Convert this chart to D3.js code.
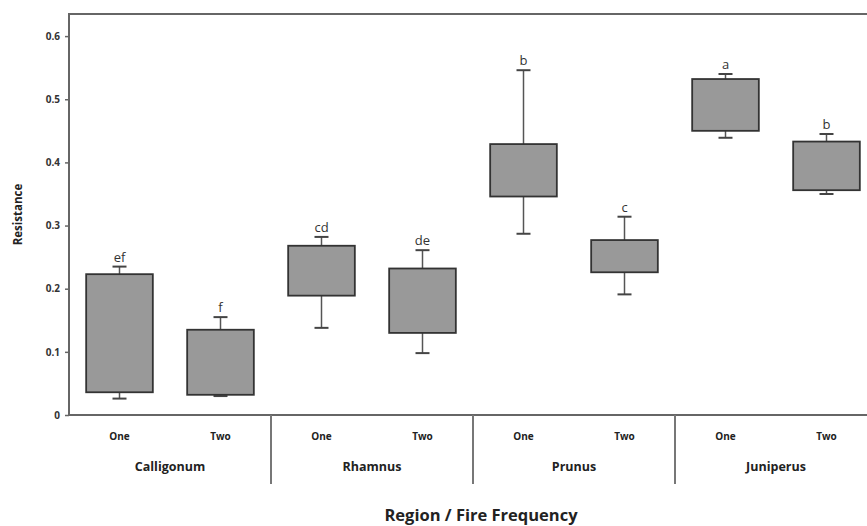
<!DOCTYPE html>
<html>
<head>
<meta charset="utf-8">
<script src="https://cdn.jsdelivr.net/npm/d3@7"></script>
<style>
  body { margin: 0; background: #fff; }
  svg { display: block; }
  text { font-family: "Open Sans", sans-serif; }
</style>
</head>
<body>
<div id="chart"></div>
<script>
// data
const regions = ["Calligonum", "Rhamnus", "Prunus", "Juniperus"];
const frequencies = ["One", "Two"];
const boxLow   = [0.036, 0.032, 0.189, 0.130, 0.346, 0.226, 0.450, 0.356];
const boxHigh  = [0.223, 0.135, 0.268, 0.232, 0.429, 0.277, 0.532, 0.433];
const whiskLow = [0.026, 0.030, 0.138, 0.098, 0.287, 0.191, 0.439, 0.350];
const whiskHigh= [0.235, 0.155, 0.282, 0.261, 0.546, 0.314, 0.540, 0.445];
const letters  = ["ef", "f", "cd", "de", "b", "c", "a", "b"];
const yTicks = [0, 0.1, 0.2, 0.3, 0.4, 0.5, 0.6];

const keys = [];
regions.forEach(r => frequencies.forEach(f => keys.push(r + "|" + f)));
const rows = keys.map((k, i) => ({
  key: k, region: k.split("|")[0], freq: k.split("|")[1],
  lo: boxLow[i], hi: boxHigh[i], wlo: whiskLow[i], whi: whiskHigh[i], letter: letters[i]
}));

const W = 867, H = 526;
const plotLeft = 69, plotRight = 877, plotTop = 14, plotBottom = 415;

const svg = d3.select("#chart").append("svg").attr("width", W).attr("height", H);

const x = d3.scaleBand().domain(keys).range([plotLeft, plotRight])
  .paddingInner(0.34).paddingOuter(0.17);
const xr = d3.scaleBand().domain(regions).range([plotLeft, plotRight]);
const y = d3.scaleLinear().domain([0, 0.635]).range([plotBottom, plotTop]);

// frame
svg.append("path")
  .attr("d", `M${plotLeft},${plotBottom}V${plotTop}H${plotRight + 2}M${plotLeft},${plotBottom}H${plotRight + 2}`)
  .attr("fill", "none").attr("stroke", "#666").attr("stroke-width", 2);

// y axis ticks and labels
const yAxis = svg.append("g").attr("transform", `translate(${plotLeft},0)`)
  .call(d3.axisLeft(y).tickValues(yTicks).tickSize(4).tickFormat(d => d === 0 ? "0" : d3.format(".1f")(d)));
yAxis.select(".domain").remove();
yAxis.selectAll(".tick line").attr("stroke", "#666").attr("stroke-width", 1.5);
yAxis.selectAll(".tick text").attr("x", -9).attr("fill", "#333")
  .style("font-size", "10px").style("font-weight", "bold");

svg.append("text")
  .attr("transform", `translate(22,${(plotTop + plotBottom) / 2}) rotate(-90)`)
  .attr("text-anchor", "middle")
  .attr("fill", "#222").style("font-size", "11.5px").style("font-weight", "bold")
  .text("Resistance");

// whiskers
const g = svg.append("g");
const cx = d => x(d.key) + x.bandwidth() / 2;
g.selectAll("line.whisk").data(rows).join("line").attr("class", "whisk")
  .attr("x1", cx).attr("x2", cx)
  .attr("y1", d => y(d.whi)).attr("y2", d => y(d.wlo))
  .attr("stroke", "#555").attr("stroke-width", 1.5);
g.selectAll("line.capHi").data(rows).join("line").attr("class", "capHi")
  .attr("x1", d => cx(d) - 7).attr("x2", d => cx(d) + 7)
  .attr("y1", d => y(d.whi)).attr("y2", d => y(d.whi))
  .attr("stroke", "#444").attr("stroke-width", 2);
g.selectAll("line.capLo").data(rows).join("line").attr("class", "capLo")
  .attr("x1", d => cx(d) - 7).attr("x2", d => cx(d) + 7)
  .attr("y1", d => y(d.wlo)).attr("y2", d => y(d.wlo))
  .attr("stroke", "#444").attr("stroke-width", 2);

// boxes
g.selectAll("rect").data(rows).join("rect")
  .attr("x", d => x(d.key)).attr("width", x.bandwidth())
  .attr("y", d => y(d.hi)).attr("height", d => y(d.lo) - y(d.hi))
  .attr("fill", "#999").attr("stroke", "#333").attr("stroke-width", 1.8);

// significance letters
g.selectAll("text.letter").data(rows).join("text").attr("class", "letter")
  .attr("x", cx).attr("y", d => y(d.whi) - 5)
  .attr("text-anchor", "middle").attr("fill", "#333")
  .style("font-size", "13px")
  .text(d => d.letter);

// x labels: frequency
svg.selectAll("text.freq").data(rows).join("text").attr("class", "freq")
  .attr("x", cx).attr("y", 440)
  .attr("text-anchor", "middle").attr("fill", "#222")
  .style("font-size", "10px").style("font-weight", "bold")
  .text(d => d.freq);

// x labels: region
svg.selectAll("text.region").data(regions).join("text").attr("class", "region")
  .attr("x", d => xr(d) + xr.bandwidth() / 2).attr("y", 471)
  .attr("text-anchor", "middle").attr("fill", "#222")
  .style("font-size", "12.5px").style("font-weight", "bold")
  .text(d => d);

// group separators
svg.selectAll("line.sep").data(regions.slice(1)).join("line").attr("class", "sep")
  .attr("x1", d => xr(d)).attr("x2", d => xr(d))
  .attr("y1", plotBottom).attr("y2", 484)
  .attr("stroke", "#777").attr("stroke-width", 2);

svg.append("text")
  .attr("x", 481).attr("y", 521)
  .attr("text-anchor", "middle").attr("fill", "#222")
  .style("font-size", "16.5px").style("font-weight", "bold")
  .text("Region / Fire Frequency");
</script>
</body>
</html>
